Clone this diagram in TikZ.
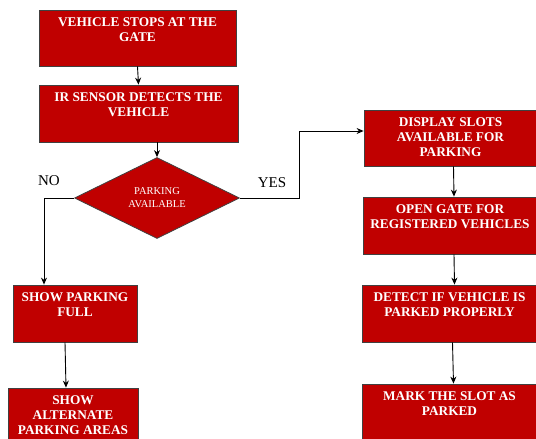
\documentclass[tikz,border=0pt]{standalone}
\usepackage{fontspec}
\setmainfont{Liberation Serif}
\usetikzlibrary{shapes.geometric, arrows.meta}
\definecolor{boxred}{HTML}{C00000}
\definecolor{boxedge}{HTML}{404040}
\newcommand{\steptext}[2]{\parbox[c][41pt][t]{#1}{\centering\bfseries #2}}

\begin{document}
\begin{tikzpicture}[x=1pt, y=-1pt,
	stepbox/.style={shape=rectangle, draw=boxedge, fill=boxred, line width=0.8pt, inner sep=0pt, minimum height=57pt, text=white, font=\fontsize{13.3}{15}\selectfont},
	decision/.style={shape=diamond, draw=boxedge, fill=boxred, line width=0.8pt, inner sep=0pt, minimum width=165pt, minimum height=81pt, text=white, align=center, font=\fontsize{10.5}{13}\selectfont},
	flow/.style={-{Stealth[length=7pt, width=6pt]}, line width=0.9pt},
	answer/.style={font=\fontsize{15}{17}\selectfont}]
	\useasboundingbox (0, 0) rectangle (536, 439);
	% Steps, decision and arrows:
	\node[stepbox, minimum width=197pt, minimum height=56pt] (gate) at (137.5, 38) {\steptext{190pt}{VEHICLE STOPS AT THE\\GATE}};
	\node[stepbox, minimum width=199pt] (sensor) at (138.5, 113.5) {\steptext{192pt}{IR SENSOR DETECTS THE\\VEHICLE}};
	\node[decision] (avail) at (157, 198) {PARKING\\AVAILABLE};
	\node[stepbox, minimum width=124pt] (full) at (75, 313.5) {\steptext{118pt}{SHOW PARKING\\FULL}};
	\node[stepbox, minimum width=130pt] (alt) at (73, 416.5) {\steptext{124pt}{SHOW\\ALTERNATE\\PARKING AREAS}};
	\node[stepbox, minimum width=173pt, minimum height=56pt] (display) at (450.5, 138) {\steptext{168pt}{DISPLAY SLOTS\\AVAILABLE FOR\\PARKING}};
	\node[stepbox, minimum width=174pt] (opengate) at (450, 225.5) {\steptext{170pt}{OPEN GATE FOR\\REGISTERED VEHICLES}};
	\node[stepbox, minimum width=175pt] (detect) at (449.5, 313.5) {\steptext{170pt}{DETECT IF VEHICLE IS\\PARKED PROPERLY}};
	\node[stepbox, minimum width=175pt] (mark) at (449.5, 412.5) {\steptext{170pt}{MARK THE SLOT AS\\PARKED}};
	\node[answer] (no) at (49, 181) {NO};
	\node[answer] (yes) at (272, 183) {YES};
	\draw[flow] (gate.south) -- (sensor.north);
	\draw[flow] (sensor.south -| avail.north) -- (avail.north);
	\draw[flow] (avail.west) -| ([xshift=-31pt]full.north);
	\draw[flow] ([xshift=-10pt]full.south) -- ([xshift=-7pt]alt.north);
	\draw[flow] (avail.east) -- ++(60, 0) |- ([yshift=7pt]display.west);
	\draw[flow] ([xshift=3pt]display.south) -- ([xshift=4pt]opengate.north);
	\draw[flow] ([xshift=4pt]opengate.south) -- ([xshift=5pt]detect.north);
	\draw[flow] ([xshift=3pt]detect.south) -- ([xshift=4pt]mark.north);
\end{tikzpicture}
\end{document}
